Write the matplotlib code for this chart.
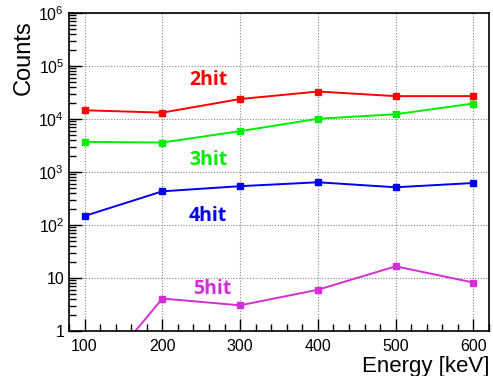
import math
import matplotlib
matplotlib.use("Agg")
import matplotlib.pyplot as plt
from matplotlib.ticker import LogLocator, FixedLocator, MultipleLocator, NullFormatter

plt.rcParams['font.family'] = ['Liberation Sans', 'DejaVu Sans']

energy = [100, 200, 300, 400, 500, 600]
hit2 = [14600, 13200, 23800, 33000, 27000, 27000]
hit3 = [3700, 3600, 5900, 10100, 12300, 19600]
hit4 = [148, 432, 540, 640, 515, 620]
hit5 = [0.07, 4.1, 3.05, 6.0, 16.6, 8.2]

# name, values, colour, label x, label y (data coords)
series = [
    ("2hit", hit2, "#ff0000", 259, 55000),
    ("3hit", hit3, "#00ee00", 259, 1700),
    ("4hit", hit4, "#0000ee", 259, 148),
    ("5hit", hit5, "#d62ed6", 264, 6.2),
]

W, H = 493, 376
fig = plt.figure(figsize=(W / 100, H / 100), dpi=100)
ax = fig.add_axes([69 / W, 1 - 331 / H, 420 / W, 318 / H])

for name, vals, col, tx, ty in series:
    ax.plot(energy, vals, color=col, lw=1.4, marker="s", ms=4.5, mec=col, mfc=col)
    ax.text(tx, ty, name, color=col, fontsize=14, fontweight="bold",
            family=["Open Sans", "DejaVu Sans"], ha="center", va="center")

ax.set_yscale("log")
ax.set_xlim(80, 620)
ax.set_ylim(1, 1e6)

ax.xaxis.set_major_locator(FixedLocator(energy))
ax.xaxis.set_minor_locator(MultipleLocator(20))
ax.yaxis.set_major_locator(LogLocator(base=10, numticks=10))
ax.yaxis.set_minor_locator(LogLocator(base=10, subs=range(2, 10), numticks=20))
ax.yaxis.set_minor_formatter(NullFormatter())


def yfmt(v, pos):
    if v < 5:
        return "1"
    if v < 50:
        return "10"
    return r"$\mathregular{10^{%d}}$" % round(math.log10(v))


ax.yaxis.set_major_formatter(plt.FuncFormatter(yfmt))

ax.tick_params(which="both", direction="in", labelsize=11.5, top=False, right=False)
ax.tick_params(which="major", length=9, width=1)
ax.tick_params(which="minor", length=5, width=1)
ax.tick_params(axis="x", pad=6)

ax.grid(True, which="major", ls=(0, (1, 1.5)), color="#888888", lw=0.8)

for s in ax.spines.values():
    s.set_linewidth(1.2)

fig.text(489 / W, 1 - 372 / H, "Energy [keV]", fontsize=16, ha="right", va="baseline")
fig.text(24 / W, 1 - 20 / H, "Counts", fontsize=17, rotation=90, ha="center", va="top")

fig.savefig("out.png", dpi=100)
